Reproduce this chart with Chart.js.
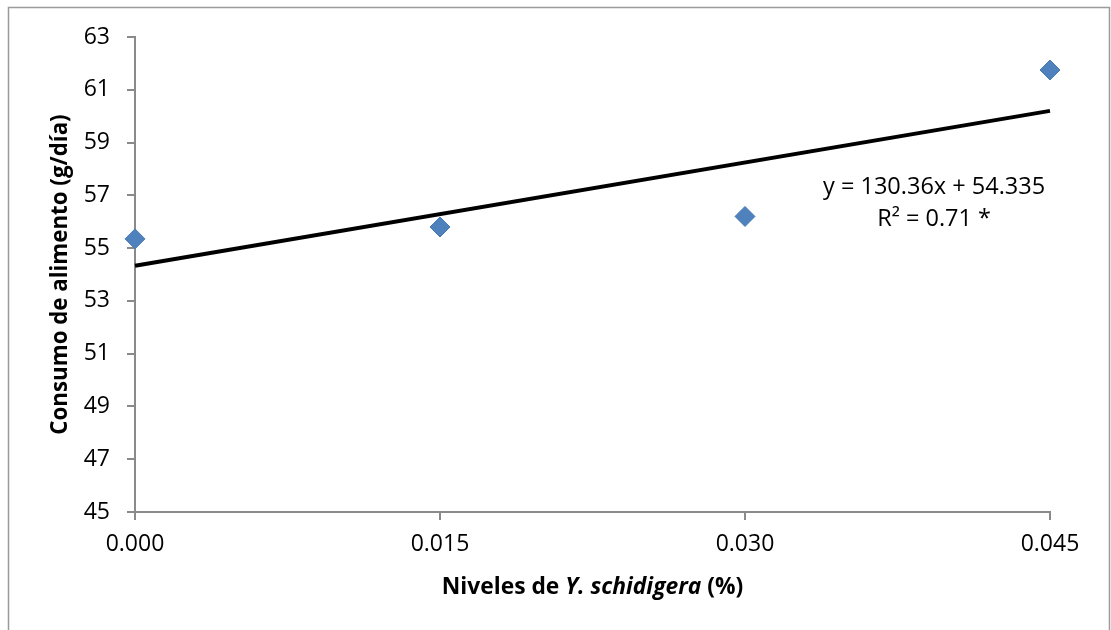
<!DOCTYPE html>
<html>
<head>
<meta charset="utf-8">
<script src="https://cdn.jsdelivr.net/npm/chart.js@4.4.1/dist/chart.umd.min.js"></script>
<style>
  html, body { margin: 0; padding: 0; background: #fff; }
  #wrap { width: 1111px; height: 630px; position: relative; }
</style>
</head>
<body>
<div id="wrap"><canvas id="chart" width="1111" height="630"></canvas></div>
<script>
// data
const niveles = [0, 0.015, 0.030, 0.045];
const consumo = [55.35, 55.8, 56.2, 61.75];
const xTicks = [0, 0.015, 0.030, 0.045];
const yTicks = [45, 47, 49, 51, 53, 55, 57, 59, 61, 63];
// trendline as printed on the chart
const pendiente = 130.36;
const intercepto = 54.335;
const ecuacion = ['y = 130.36x + 54.335', 'R\u00b2 = 0.71 *'];

const font = "'Open Sans', 'Liberation Sans', sans-serif";
const axisGray = '#8a8a8a';

const trend = [niveles[0], niveles[niveles.length - 1]].map(x => ({ x: x, y: pendiente * x + intercepto }));

const decor = {
    id: 'decor',
    beforeDraw(chart) {
        const ctx = chart.ctx;
        ctx.save();
        ctx.fillStyle = '#fff';
        ctx.fillRect(0, 0, chart.width, chart.height);
        ctx.strokeStyle = '#9a9a9a';
        ctx.lineWidth = 1.5;
        ctx.strokeRect(8.5, 7.5, 1101, 700);
        ctx.restore();
    },
    afterDraw(chart) {
        const ctx = chart.ctx;
        const xs = chart.scales.x;
        const ys = chart.scales.y;
        ctx.save();
        ctx.fillStyle = '#000';

        // equation near the trendline end
        ctx.font = '23.5px ' + font;
        ctx.textAlign = 'center';
        ctx.textBaseline = 'middle';
        const ex = xs.getPixelForValue(0.0393);
        ctx.fillText(ecuacion[0], ex, ys.getPixelForValue(57.3));
        ctx.fillText(ecuacion[1], ex, ys.getPixelForValue(56.1));

        // x title with italic species name
        const parts = [
            { t: 'Niveles de ', f: 'bold 22.8px ' + font },
            { t: 'Y. schidigera', f: 'italic bold 22.8px ' + font },
            { t: ' (%)', f: 'bold 22.8px ' + font }
        ];
        let total = 0;
        parts.forEach(p => { ctx.font = p.f; p.w = ctx.measureText(p.t).width; total += p.w; });
        let px = (xs.left + xs.right) / 2 - total / 2;
        ctx.textAlign = 'left';
        parts.forEach(p => { ctx.font = p.f; ctx.fillText(p.t, px, 588); px += p.w; });

        // y title
        ctx.translate(61, (ys.top + ys.bottom) / 2);
        ctx.rotate(-Math.PI / 2);
        ctx.textAlign = 'center';
        ctx.font = 'bold 22.3px ' + font;
        ctx.fillText('Consumo de alimento (g/d\u00eda)', 0, 0);
        ctx.restore();
    }
};

new Chart(document.getElementById('chart').getContext('2d'), {
    type: 'scatter',
    data: {
        datasets: [
            {
                label: 'Consumo',
                data: niveles.map((x, i) => ({ x: x, y: consumo[i] })),
                pointStyle: 'rectRot',
                pointRadius: 10,
                backgroundColor: '#4f81bd',
                borderColor: '#4a7ab5',
                borderWidth: 1,
                clip: false,
                order: 1
            },
            {
                label: 'Lineal',
                type: 'line',
                data: trend,
                borderColor: '#000',
                borderWidth: 4,
                pointRadius: 0,
                fill: false,
                clip: false,
                order: 2
            }
        ]
    },
    options: {
        responsive: false,
        animation: false,
        layout: { padding: { left: 0, top: 37, right: 61, bottom: 0 } },
        plugins: {
            legend: { display: false },
            tooltip: { enabled: false }
        },
        scales: {
            x: {
                type: 'linear',
                min: 0,
                max: 0.045,
                afterFit: s => { s.height = 118; },
                afterBuildTicks: s => { s.ticks = xTicks.map(v => ({ value: v })); },
                border: { color: axisGray, width: 2 },
                grid: { drawOnChartArea: false, tickLength: 8, color: axisGray, lineWidth: 2 },
                ticks: {
                    padding: 11,
                    color: '#000',
                    font: { family: font, size: 23 },
                    callback: v => v.toFixed(3)
                }
            },
            y: {
                min: 45,
                max: 63,
                afterFit: s => { s.width = 135; },
                afterBuildTicks: s => { s.ticks = yTicks.map(v => ({ value: v })); },
                border: { color: axisGray, width: 2 },
                grid: { drawOnChartArea: false, tickLength: 8, color: axisGray, lineWidth: 2 },
                ticks: {
                    padding: 17,
                    color: '#000',
                    font: { family: font, size: 23 }
                }
            }
        }
    },
    plugins: [decor]
});
</script>
</body>
</html>
